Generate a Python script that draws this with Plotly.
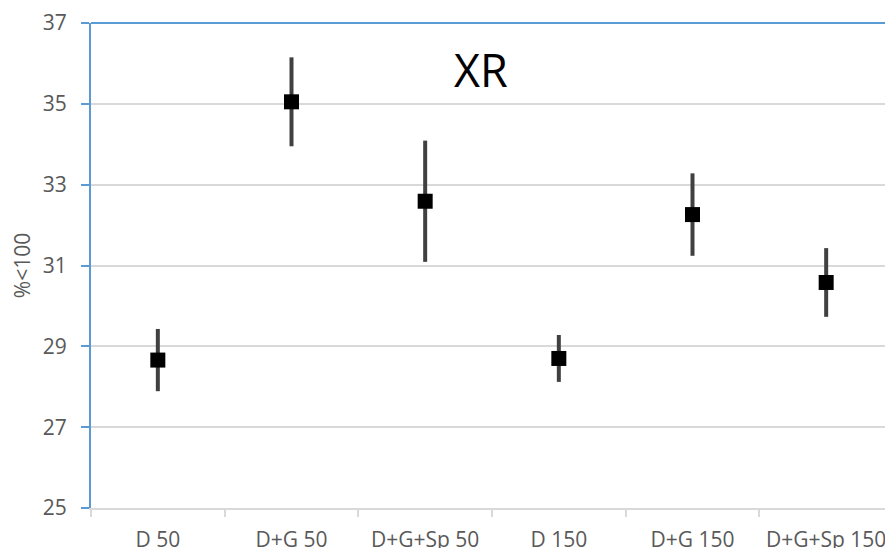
import plotly.graph_objects as go

categories = ["D 50", "D+G 50", "D+G+Sp 50", "D 150", "D+G 150", "D+G+Sp 150"]
means = [28.66, 35.05, 32.59, 28.70, 32.26, 30.58]
errors = [0.77, 1.10, 1.50, 0.58, 1.02, 0.85]
y_ticks = [25, 27, 29, 31, 33, 35, 37]

FONT = "Open Sans"
GRAY_TEXT = "#595959"
BLUE = "#5B9BD5"
GRID = "#D9D9D9"

# the page body has an 8px margin, so the figure is sized/offset to compensate
fig = go.Figure()
fig.add_trace(go.Scatter(
    x=categories, y=means, mode="markers",
    marker=dict(symbol="square", size=15, color="black"),
    error_y=dict(type="data", array=errors, symmetric=True,
                 thickness=4, width=0, color="#404040"),
    showlegend=False,
))

fig.update_layout(
    width=885, height=540,
    margin=dict(l=83, r=0, t=15, b=40),
    paper_bgcolor="white", plot_bgcolor="white",
    font=dict(family=FONT, size=21, color=GRAY_TEXT),
    xaxis=dict(
        type="category", showgrid=False, automargin=False,
        range=[-0.5, len(categories) - 0.5],
        showline=True, linecolor=GRID, linewidth=2,
        ticks="outside", tickson="boundaries", ticklen=7,
        tickcolor=GRID, tickwidth=2,
        tickfont=dict(family=FONT, size=21, color=GRAY_TEXT),
        ticklabelstandoff=12,
    ),
    yaxis=dict(
        range=[25, 37], tickvals=y_ticks, automargin=False,
        showgrid=True, gridcolor=GRID, gridwidth=2,
        showline=True, linecolor=BLUE, linewidth=2,
        ticks="outside", ticklen=8, tickcolor=BLUE, tickwidth=2,
        tickfont=dict(family=FONT, size=21, color=GRAY_TEXT),
        ticklabelstandoff=10,
        zeroline=False,
        title=dict(text="%<100", font=dict(family=FONT, size=21, color=GRAY_TEXT), standoff=14),
    ),
    shapes=[dict(type="line", xref="paper", yref="paper", x0=0, x1=1, y0=1, y1=1,
                 line=dict(color=BLUE, width=2))],
    annotations=[dict(text="XR", xref="paper", yref="paper",
                      x=(481 - 91) / 802, y=(508 - 70) / 485,
                      xanchor="center", yanchor="middle", showarrow=False,
                      font=dict(family=FONT, size=45, color="black"))],
)

fig.write_html("out.html")
